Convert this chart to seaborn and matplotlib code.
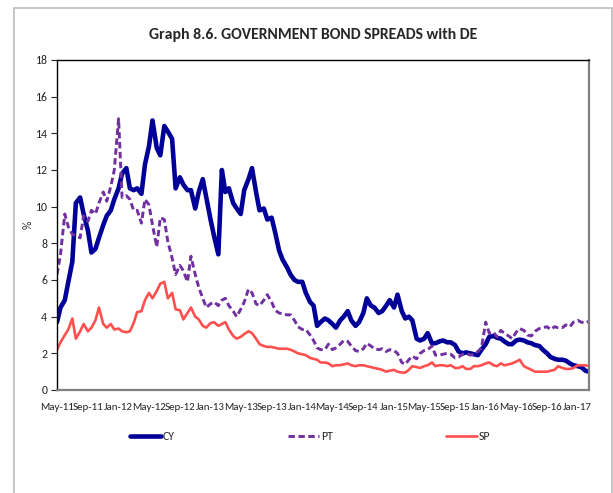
import numpy as np
import pandas as pd
import matplotlib
matplotlib.use("Agg")
import matplotlib.pyplot as plt
from matplotlib.patches import Rectangle
import seaborn as sns

# ---- data (semi-monthly readings, May 2011 .. Feb 2017) ----
dates = pd.date_range("2011-05-01", periods=140, freq="SMS")

cy = [3.7, 4.5, 4.9, 5.9, 7.0, 10.2, 10.5, 9.6, 8.7, 7.5,
      7.7, 8.3, 9.0, 9.5, 9.8, 10.4, 11.0, 11.8, 12.1, 11.0,
      10.9, 11.0, 10.7, 12.3, 13.3, 14.7, 13.2, 12.8, 14.4, 14.1,
      13.7, 11.0, 11.6, 11.2, 10.9, 10.9, 9.9, 10.8, 11.5, 10.5,
      9.3, 8.4, 7.4, 12.0, 10.8, 11.0, 10.2, 9.9, 9.6, 10.9,
      11.5, 12.1, 10.8, 9.8, 9.9, 9.3, 9.4, 8.6, 7.6, 7.1,
      6.7, 6.3, 6.0, 5.9, 5.9, 5.3, 4.8, 4.6, 3.5, 3.7,
      3.9, 3.8, 3.6, 3.4, 3.8, 4.0, 4.3, 3.8, 3.5, 3.7,
      4.2, 5.0, 4.6, 4.5, 4.2, 4.3, 4.6, 4.9, 4.5, 5.2,
      4.3, 3.9, 4.0, 3.8, 2.8, 2.7, 2.8, 3.1, 2.55, 2.55,
      2.65, 2.7, 2.6, 2.6, 2.45, 2.1, 2.0, 2.05, 2.0, 1.95,
      1.9, 2.2, 2.5, 2.9, 2.95, 2.85, 2.8, 2.65, 2.5, 2.5,
      2.7, 2.75, 2.7, 2.6, 2.55, 2.45, 2.4, 2.2, 2.0, 1.8,
      1.7, 1.65, 1.65, 1.6, 1.45, 1.35, 1.3, 1.25, 1.05, 1.0]

pt = [6.3, 7.4, 9.6, 8.9, 8.5, 8.4, 8.3, 9.5, 9.2, 9.8,
      9.6, 10.2, 10.8, 10.3, 11.1, 12.0, 14.8, 10.5, 10.6, 10.4,
      9.8, 9.8, 9.1, 10.4, 10.1, 9.0, 7.8, 9.4, 9.3, 8.1,
      7.2, 6.3, 6.8, 6.5, 5.9, 7.3, 6.3, 5.6, 5.0, 4.5,
      4.7, 4.8, 4.6, 4.9, 5.0, 4.6, 4.3, 4.0, 4.4, 4.8,
      5.5, 5.3, 4.7, 4.6, 4.9, 5.2, 4.8, 4.35, 4.2, 4.15,
      4.1, 4.1, 3.8, 3.45, 3.3, 3.3, 3.0, 2.7, 2.3, 2.2,
      2.2, 2.5, 2.2, 2.3, 2.5, 2.7, 2.65, 2.4, 2.15, 2.1,
      2.25, 2.55, 2.4, 2.25, 2.2, 2.25, 2.1, 2.2, 2.15, 2.0,
      1.5, 1.4, 1.65, 1.85, 1.7, 2.0, 2.15, 2.2, 2.4, 1.9,
      1.9, 1.95, 2.0, 1.95, 1.75, 1.8, 1.95, 2.0, 1.9, 1.95,
      2.1, 2.3, 3.7, 3.1, 3.15, 2.9, 3.25, 3.1, 2.95, 2.8,
      3.15, 3.35, 3.25, 3.0, 2.95, 3.2, 3.35, 3.4, 3.45, 3.3,
      3.45, 3.4, 3.4, 3.55, 3.45, 3.7, 3.8, 3.7, 3.65, 3.75]

sp = [2.2, 2.6, 3.0, 3.3, 3.9, 2.8, 3.2, 3.6, 3.2, 3.4,
      3.8, 4.5, 3.6, 3.4, 3.6, 3.3, 3.35, 3.2, 3.15, 3.2,
      3.65, 4.25, 4.3, 4.9, 5.3, 5.0, 5.4, 5.8, 5.9, 5.0,
      5.3, 4.4, 4.35, 3.85, 4.2, 4.5, 4.0, 3.85, 3.5, 3.4,
      3.65, 3.7, 3.5, 3.6, 3.7, 3.3, 2.95, 2.8, 2.9, 3.05,
      3.2, 3.1, 2.8, 2.5, 2.4, 2.35, 2.35, 2.3, 2.25, 2.25,
      2.25, 2.2, 2.1, 2.0, 1.95, 1.9, 1.75, 1.7, 1.65, 1.5,
      1.5, 1.45, 1.3, 1.35, 1.35, 1.4, 1.45, 1.35, 1.3, 1.35,
      1.35, 1.3, 1.25, 1.2, 1.15, 1.1, 1.0, 1.05, 1.1, 1.0,
      0.95, 0.95, 1.1, 1.3, 1.25, 1.2, 1.3, 1.35, 1.5, 1.3,
      1.35, 1.35, 1.3, 1.35, 1.2, 1.2, 1.3, 1.15, 1.15, 1.3,
      1.3, 1.35, 1.45, 1.5, 1.35, 1.3, 1.45, 1.35, 1.4, 1.45,
      1.55, 1.65, 1.3, 1.2, 1.1, 1.0, 1.0, 1.0, 1.0, 1.05,
      1.1, 1.3, 1.2, 1.15, 1.15, 1.2, 1.35, 1.35, 1.35, 1.3]

series_names = ["CY", "PT", "SP"]
title = "Graph 8.6. GOVERNMENT BOND SPREADS with DE"
y_ticks = [0, 2, 4, 6, 8, 10, 12, 14, 16, 18]
x_tick_labels = ["May-11", "Sep-11", "Jan-12", "May-12", "Sep-12", "Jan-13",
                 "May-13", "Sep-13", "Jan-14", "May-14", "Sep-14", "Jan-15",
                 "May-15", "Sep-15", "Jan-16", "May-16", "Sep-16", "Jan-17"]

# ---- styling ----
sns.set_style("white")
FONT = ["Carlito", "Liberation Sans", "DejaVu Sans"]
plt.rcParams["font.family"] = FONT

W, H = 613, 493
fig = plt.figure(figsize=(W / 100, H / 100), dpi=100)
fig.patch.set_facecolor("white")

# outer chart border
fig.add_artist(Rectangle((14 / W, -0.01), (611.5 - 14) / W, 1 - 8 / H + 0.01,
                         transform=fig.transFigure, fill=False,
                         edgecolor="#c0c0c0", lw=1.3))

ax = fig.add_axes([57 / W, 1 - 390 / H, (589 - 57) / W, (390 - 60) / H])

df = pd.DataFrame({"date": dates, "CY": cy, "PT": pt, "SP": sp})
colors = {"CY": "#000099", "PT": "#7030A0", "SP": "#FF5050"}
widths = {"CY": 3.3, "PT": 2.1, "SP": 1.9}

for name in series_names:
    sns.lineplot(data=df, x="date", y=name, ax=ax, color=colors[name],
                 lw=widths[name], label=name)
ax.lines[1].set_dashes([2.2, 1.2])

ax.set_ylim(0, 18)
ax.set_yticks(y_ticks)
ax.set_xlim(dates[0], dates[-1])
tick_dates = pd.date_range("2011-05-01", periods=len(x_tick_labels), freq="4MS")
ax.set_xticks(tick_dates)
ax.set_xticklabels(x_tick_labels)
ax.tick_params(axis="x", length=0, pad=9, labelsize=7.8)
ax.tick_params(axis="y", length=4, width=0.8, labelsize=8.5, direction="out",
               left=True, pad=3)
ax.set_xlabel("")
ax.set_ylabel("%", fontsize=8.5, labelpad=1)

for s in ["top", "left"]:
    ax.spines[s].set_color("#000000")
    ax.spines[s].set_linewidth(1.0)
for s in ["right", "bottom"]:
    ax.spines[s].set_color("#808080")
    ax.spines[s].set_linewidth(1.6)

ax.get_legend().remove()
handles, labels = ax.get_legend_handles_labels()
fig.legend(handles, labels, loc="center", bbox_to_anchor=(0.506, 1 - 437 / H),
           ncol=3, frameon=False, fontsize=8.5, handlelength=2.6,
           handletextpad=0.15, columnspacing=9.6)

fig.text(0.511, 1 - 35 / H, title, ha="center", va="center",
         fontsize=11.3, fontweight="bold")

fig.savefig("out.png", dpi=100, facecolor="white")
